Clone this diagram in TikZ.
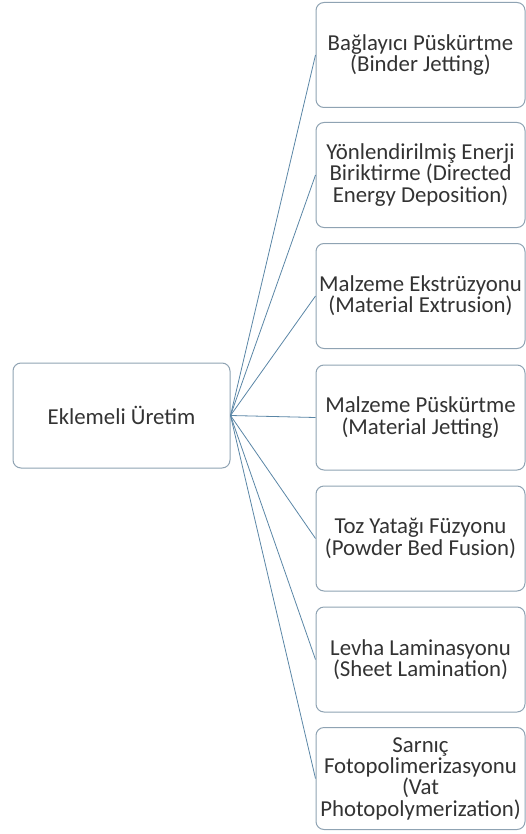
\documentclass[tikz,border=0pt]{standalone}
\usepackage{fontspec}
\setmainfont{Carlito}
\definecolor{boxc}{HTML}{8FA3B3}
\definecolor{linec}{HTML}{5A86A6}
\definecolor{txt}{HTML}{333333}
\begin{document}
\begin{tikzpicture}[x=1pt,y=-1pt,
  box/.style={draw=boxc, line width=1pt, rounded corners=8pt, fill=white, align=center, text=txt,
    font=\fontsize{22.8}{21.3}\selectfont, inner sep=0pt, minimum width=209pt, minimum height=105pt},
  conn/.style={draw=linec, line width=0.8pt}]
\useasboundingbox (0,0) rectangle (526,834);
\node[box, minimum width=217pt] (a) at (121.5,415.5) {Eklemeli Üretim};
\node[box] (b1) at (420.5,55) {Bağlayıcı Püskürtme\\(Binder Jetting)};
\node[box] (b2) at (420.5,175) {Yönlendirilmiş Enerji\\Biriktirme (Directed\\Energy Deposition)};
\node[box] (b3) at (420.5,296) {Malzeme Ekstrüzyonu\\(Material Extrusion)};
\node[box] (b4) at (420.5,417.5) {Malzeme Püskürtme\\(Material Jetting)};
\node[box] (b5) at (420.5,538.5) {Toz Yatağı Füzyonu\\(Powder Bed Fusion)};
\node[box] (b6) at (420.5,659.5) {Levha Laminasyonu\\(Sheet Lamination)};
\node[box, minimum height=102pt] (b7) at (420.5,778.5) {Sarnıç\\Fotopolimerizasyonu\\(Vat\\Photopolymerization)};
\foreach \i in {1,...,7} {\draw[conn] (a.east) -- (b\i.west);}
\end{tikzpicture}
\end{document}
